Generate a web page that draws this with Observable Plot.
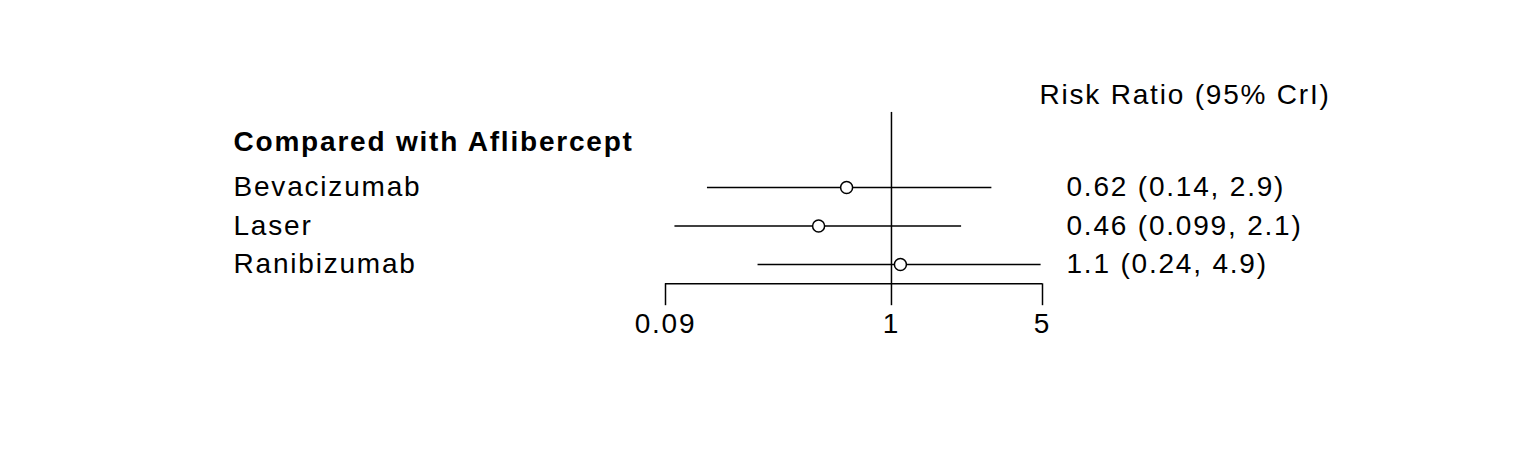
<!DOCTYPE html>
<html>
<head>
<script src="https://cdn.jsdelivr.net/npm/d3@7"></script>
<script src="https://cdn.jsdelivr.net/npm/@observablehq/plot@0.6"></script>
<style>body{margin:0;background:#fff} svg text{letter-spacing:1.8px}</style>
</head>
<body>
<div id="chart"></div>
<script>
const treatments = ["Bevacizumab", "Laser", "Ranibizumab"]
const estimates = [0.62, 0.46, 1.1]
const lowers = [0.14, 0.099, 0.24]
const uppers = [2.9, 2.1, 4.9]
const labels = ["0.62 (0.14, 2.9)", "0.46 (0.099, 2.1)", "1.1 (0.24, 4.9)"]
const ticks = [0.09, 1, 5]
const ticksText = ["0.09", "1", "5"]

const rows = treatments.map((t, i) => ({
  name: t, row: i + 1, est: estimates[i], lo: lowers[i], hi: uppers[i], label: labels[i]
}))

const font = "Liberation Sans, Arial, sans-serif"
const fs = 28

let chart = Plot.plot({
  width: 1536, height: 460,
  margin: 0,
  style: {fontFamily: font, fontSize: fs + "px", background: "white"},
  x: {type: "log", domain: [0.09, 5], range: [665, 1042], axis: null},
  y: {domain: [0, 3], range: [148.5, 264], axis: null},
  marks: [
    // reference line at 1
    Plot.ruleX([1], {y1: -0.95, y2: 3.5, stroke: "black", strokeWidth: 1.5}),
    // intervals
    Plot.link(rows, {x1: "lo", x2: "hi", y1: "row", y2: "row", stroke: "black", strokeWidth: 1.5}),
    Plot.dot(rows, {x: "est", y: "row", r: 6, fill: "white", stroke: "black", strokeWidth: 1.5}),
    // axis
    Plot.ruleY([3.5], {x1: 0.09, x2: 5, stroke: "black", strokeWidth: 1.5}),
    Plot.ruleX(ticks, {y1: 3.5, y2: 4.07, stroke: "black", strokeWidth: 1.5}),
    Plot.text(ticks, {x: d => d, y: 4.55, text: (d, i) => ticksText[i], fill: "black", fontSize: fs}),
    // row labels
    Plot.text(rows, {x: () => 0.09, dx: -432, y: "row", text: "name", textAnchor: "start", fill: "black", fontSize: fs}),
    Plot.text(["Compared with Aflibercept"], {x: () => 0.09, dx: -432, y: -0.18, text: d => d, textAnchor: "start", fontWeight: "bold", fill: "black", fontSize: fs}),
    // estimate labels
    Plot.text(rows, {x: () => 5, dx: 24, y: "row", text: "label", textAnchor: "start", fill: "black", fontSize: fs}),
    Plot.text(["Risk Ratio (95% CrI)"], {x: () => 5, dx: -3, y: -1.4, text: d => d, textAnchor: "start", fill: "black", fontSize: fs})
  ]
})

d3.select("#chart").append(() => chart)
</script>
</body>
</html>
